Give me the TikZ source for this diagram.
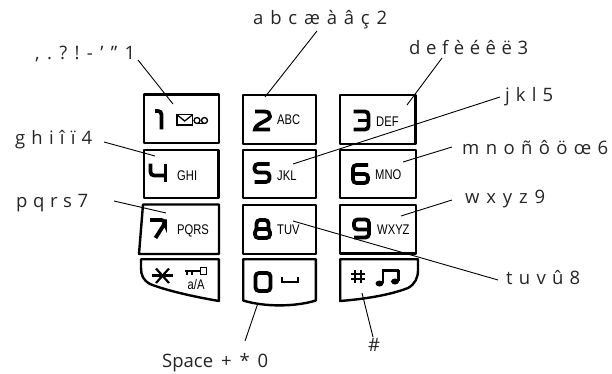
\documentclass[tikz,border=0pt]{standalone}
\usepackage{fontspec}
\setmainfont{Open Sans}
\newfontfamily\lblfont{Open Sans}
\newfontfamily\keyfont[FakeStretch=0.8]{Liberation Sans}
\newcommand\spreadto[2]{\hbox to #1{\frenchspacing\spaceskip=0.15em plus 1fil\relax #2}}
\tikzset{
  keybox/.style={draw=black, line width=2.4pt, fill=white, inner sep=0pt, line join=round},
  keypath/.style={draw=black, line width=2.4pt, fill=white, line join=round},
  digit/.style={draw=black, line width=3.8pt, rounded corners=3.5pt, line cap=butt},
  keyletters/.style={anchor=base west, inner sep=0pt, font=\keyfont\fontsize{14}{14}\selectfont},
  lbl/.style={anchor=base west, inner sep=0pt, text=black!85, font=\lblfont\fontsize{18.5}{18.5}\selectfont},
  conn/.style={draw=black, line width=0.9pt},
  icon/.style={draw=black, line width=1.3pt},
  d1/.pic={\path[digit] (-4,-9)--(2.5,-9)--(2.5,9.5);},
  d2/.pic={\path[digit,rounded corners=0pt] (-7.5,-9) -- (1.5,-9) .. controls (6,-9) and (7.5,-7) .. (7.5,-4) .. controls (7.5,0) and (-7.5,3) .. (-7.5,9) -- (7.5,9);},
  d3/.pic={\path[digit] (-7.5,-9)--(7.5,-9)--(7.5,9)--(-7.5,9); \path[digit] (-3,0)--(7.5,0);},
  d4/.pic={\path[digit] (-7.5,-9)--(-7.5,3)--(7.5,3); \path[digit] (7.5,-9)--(7.5,9);},
  d5/.pic={\path[digit] (7.5,-9)--(-7.5,-9)--(-7.5,-0.5)--(7.5,-0.5)--(7.5,9)--(-7.5,9);},
  d6/.pic={\path[digit] (7.5,-9)--(-7.5,-9)--(-7.5,9)--(7.5,9)--(7.5,0)--(-7.5,0);},
  d7/.pic={\path[digit] (-7.5,-9)--(7.5,-9)--(7.5,-6)--(-2,9);},
  d8/.pic={\path[digit] (-6,0)--(-6,-9)--(6,-9)--(6,0); \path[digit] (-7.5,0)--(-7.5,9)--(7.5,9)--(7.5,0)--cycle;},
  d9/.pic={\path[digit] (-7.5,9)--(7.5,9)--(7.5,-9)--(-7.5,-9)--(-7.5,1)--(7.5,1);},
  d0/.pic={\path[digit] (-7.5,-9)--(7.5,-9)--(7.5,9)--(-7.5,9)--cycle;},
}
\begin{document}
\begin{tikzpicture}[x=1pt,y=-1pt]
\useasboundingbox[fill=white] (0,0) rectangle (612,374);

% ---- keys ----
\node[keybox, minimum width=74.6pt, minimum height=48.6pt] (k1) at (181.5,119) {};
\node[keybox, minimum width=72.6pt, minimum height=48.6pt] (k2) at (279.5,119.5) {};
\node[keybox, minimum width=75.6pt, minimum height=48.6pt] (k3) at (377.5,119.5) {};
\node[keybox, minimum width=74.6pt, minimum height=47.6pt] (k4) at (181.3,174) {};
\node[keybox, minimum width=72.6pt, minimum height=47.6pt] (k5) at (279.5,174) {};
\node[keybox, minimum width=75.6pt, minimum height=47.6pt] (k6) at (378,174) {};
\path[keypath] (143,204.5)--(219,204.5)--(219,254)--(139,254)--cycle;
\node[keybox, minimum width=72.6pt, minimum height=49pt] (k8) at (279.5,229.2) {};
\node[keybox, minimum width=75.6pt, minimum height=48.6pt] (k9) at (378,229.2) {};
% bottom row
\path[keypath] (141,259.2)--(218.8,259.2)--(218.8,301)
  .. controls (190,296) and (165,290) .. (150,284)
  .. controls (143,280) and (141,275) .. (141,268) -- cycle;
\path[keypath] (243.2,259.2)--(315.8,259.2)--(315.8,300.5)
  .. controls (295,307) and (264,307) .. (243.2,300.5) -- cycle;
\path[keypath] (340.2,259.2)--(418,259.2)--(418,270)
  .. controls (418,278) and (415,284) .. (408,288)
  .. controls (390,295) and (365,299) .. (340.2,301) -- cycle;

% ---- digits ----
\pic at (159,120) {d1};
\pic at (262.5,120.5) {d2};
\pic at (361,120.5) {d3};
\pic at (158,172.5) {d4};
\pic at (262,173) {d5};
\pic at (360.5,174) {d6};
\pic at (157.5,229) {d7};
\pic at (262.5,229) {d8};
\pic at (361.5,228.5) {d9};
\pic at (263,282) {d0};

% ---- key letters ----
\node[keyletters] (tabc) at (277,125) {ABC};
\node[keyletters] (tdef) at (376,127) {DEF};
\node[keyletters] (tghi) at (177,180) {GHI};
\node[keyletters] (tjkl) at (277,180) {JKL};
\node[keyletters] (tmno) at (375,179.5) {MNO};
\node[keyletters] (tpqrs) at (177,234) {PQRS};
\node[keyletters] (ttuv) at (277,234) {TUV};
\node[keyletters] (twxyz) at (377,234) {WXYZ};
\node[keyletters] (taA) at (187.5,289.5) {a/A};

% ---- icons ----
% envelope + voicemail on key 1
\path[icon] (177,114.8) rectangle (192.5,125);
\path[icon] (177,114.8)--(184.7,121)--(192.5,114.8);
\path[icon] (197,120.5) circle[radius=3];
\path[icon] (204.5,120.5) circle[radius=3];
\path[icon] (197,123.5)--(204.5,123.5);
% space symbol on key 0
\path[draw=black, line width=1.8pt] (282,277)--(282,282)--(298,282)--(298,277);
% star
\path[draw=black, line width=2.2pt] (152,275.5)--(173,275.5);
\path[draw=black, line width=2.2pt] (156,268.5)--(169,283);
\path[draw=black, line width=2.2pt] (156,283)--(169,268.5);
% key symbol
\path[draw=black, line width=2pt] (185,270.5)--(200,270.5);
\path[draw=black, line width=2pt] (187,270.5)--(187,275);
\path[draw=black, line width=2pt] (191.5,270.5)--(191.5,275);
\path[draw=black, line width=1.6pt] (200.5,267.5) rectangle (206.5,274.5);
% hash
\path[draw=black, line width=2pt] (355,270)--(355,283);
\path[draw=black, line width=2pt] (360.5,270)--(360.5,283);
\path[draw=black, line width=2pt] (351,274)--(364.5,274);
\path[draw=black, line width=2pt] (351,279)--(364.5,279);
% note
\path[draw=black, line width=3pt] (382,270.5)--(399,270.5);
\path[draw=black, line width=2.4pt] (383,270)--(383,283);
\path[draw=black, line width=2.4pt] (398.5,270)--(398.5,281);
\path[fill=black] (379.5,283.5) ellipse[x radius=4, y radius=3];
\path[fill=black] (395,281.5) ellipse[x radius=4, y radius=3];

% ---- labels ----
\node[lbl] (l1) at (35,60) {\spreadto{100pt}{, . ? ! - ’ ” 1}};
\node[lbl] (l2) at (253,25) {\spreadto{134pt}{a b c æ à â ç 2}};
\node[lbl] (l3) at (409,55) {\spreadto{119pt}{d e f è é ê ë 3}};
\node[lbl] (l5) at (505,102) {\spreadto{48pt}{j k l 5}};
\node[lbl] (l6) at (462,154) {\spreadto{146pt}{m n o ñ ô ö œ 6}};
\node[lbl] (l9) at (465,203) {\spreadto{80pt}{w x y z 9}};
\node[lbl] (l8) at (506,284) {\spreadto{74pt}{t u v û 8}};
\node[lbl] (l4) at (15,145) {\spreadto{77pt}{g h i î ï 4}};
\node[lbl] (l7) at (16,207) {\spreadto{72pt}{p q r s 7}};
\node[lbl] (l0) at (162,367) {\spreadto{106pt}{Space + * 0}};
\node[lbl] (lh) at (368,351) {\#};

% ---- connector endpoints ----
\coordinate (c1a) at (138,60);  \coordinate (c1b) at (173,104);
\coordinate (c2a) at (317,31);  \coordinate (c2b) at (265,97);
\coordinate (c3a) at (442,58);  \coordinate (c3b) at (407,105);
\coordinate (c5a) at (500,97);  \coordinate (c5b) at (293,164);
\coordinate (c6a) at (452,147); \coordinate (c6b) at (403,162);
\coordinate (c9a) at (452,200); \coordinate (c9b) at (401,216);
\coordinate (c8a) at (498,280); \coordinate (c8b) at (293,221);
\coordinate (c4a) at (104,142); \coordinate (c4b) at (155,156);
\coordinate (c7a) at (114,201); \coordinate (c7b) at (166,213);
\coordinate (c0a) at (258,303); \coordinate (c0b) at (245,341);
\coordinate (cha) at (362,293); \coordinate (chb) at (373,337);

\draw[conn] (c1a) -- (c1b);
\draw[conn] (c2a) -- (c2b);
\draw[conn] (c3a) -- (c3b);
\draw[conn] (c5a) -- (c5b);
\draw[conn] (c6a) -- (c6b);
\draw[conn] (c9a) -- (c9b);
\draw[conn] (c8a) -- (c8b);
\draw[conn] (c4a) -- (c4b);
\draw[conn] (c7a) -- (c7b);
\draw[conn] (c0a) -- (c0b);
\draw[conn] (cha) -- (chb);
\end{tikzpicture}
\end{document}
